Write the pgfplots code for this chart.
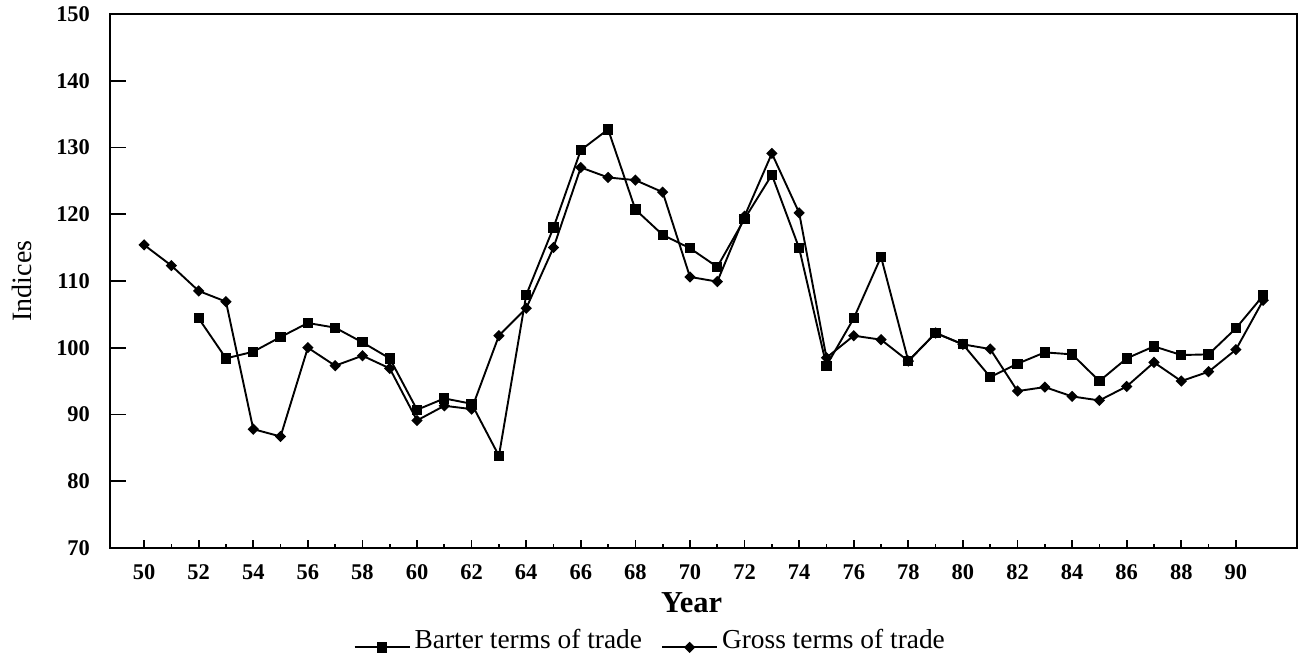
\documentclass[border=0pt]{standalone}
\usepackage{pgfplots}
\pgfplotsset{compat=1.18}
\usepackage{fontspec}
\setmainfont{Liberation Serif}
\begin{document}
\begin{tikzpicture}
\begin{axis}[
  scale only axis,
  width=623.9pt, height=280.7pt,
  at={(0,0)}, anchor=south west,
  xmin=48.75, xmax=92.24,
  ymin=70, ymax=150,
  axis line style={line width=1pt},
  tick align=inside,
  xtick={50,52,...,90},
  minor x tick num=1,
  xtick pos=bottom,
  ytick={70,80,...,150},
  ytick pos=left,
  ytick style={draw=none},
  major tick length=4.2pt,
  minor tick length=2.1pt,
  xtick style={line width=0.9pt, black},
  minor tick style={line width=0.9pt, black},
  /pgf/number format/assume math mode=true,
  ticklabel style={font=\fontsize{11.8}{13}\selectfont\bfseries},
  xticklabel style={yshift=-5pt, text height=8pt, text depth=0pt},
  yticklabel style={xshift=-7pt},
  xlabel={Year},
  ylabel={Indices},
  every axis x label/.style={at={(axis description cs:0.49,-0.103)},anchor=center,font=\fontsize{16}{18}\selectfont\bfseries},
  every axis y label/.style={at={(axis description cs:-0.0741,0.5)},rotate=90,anchor=center,font=\fontsize{14.7}{16}\selectfont},
  legend columns=2,
  legend style={at={(axis description cs:0.456,-0.172)},anchor=center,draw=none,fill=none,
    font=\fontsize{14.4}{16}\selectfont,
    /tikz/every even column/.append style={column sep=8pt}},
  legend image code/.code={\draw[mark repeat=2,mark phase=2,#1,yshift=-4pt] plot coordinates {(0pt,0pt) (14.5pt,0pt) (29pt,0pt)};},
]
\addplot[black, line width=1pt, mark=square*, mark size=2.2pt, mark options={solid}] coordinates {
(52,104.4) (53,98.4) (54,99.4) (55,101.6) (56,103.7) (57,103.0) (58,100.8) (59,98.4)
(60,90.7) (61,92.4) (62,91.6) (63,83.8) (64,107.9) (65,118.0) (66,129.6) (67,132.7)
(68,120.7) (69,116.9) (70,114.9) (71,112.1) (72,119.3) (73,125.9) (74,114.9) (75,97.3)
(76,104.4) (77,113.6) (78,98.0) (79,102.2) (80,100.5) (81,95.6) (82,97.6) (83,99.3)
(84,99.0) (85,95.0) (86,98.4) (87,100.2) (88,98.9) (89,99.0) (90,102.9) (91,107.8)
};
\addlegendentry{Barter terms of trade}
\addplot[black, line width=1pt, mark=square*, mark size=1.6pt, mark options={solid,rotate=45}] coordinates {
(50,115.4) (51,112.3) (52,108.5) (53,106.9) (54,87.8) (55,86.7) (56,100.0) (57,97.3)
(58,98.8) (59,96.9) (60,89.1) (61,91.3) (62,90.8) (63,101.8) (64,105.9) (65,115.0)
(66,127.0) (67,125.5) (68,125.1) (69,123.3) (70,110.6) (71,109.9) (72,119.7) (73,129.1)
(74,120.2) (75,98.5) (76,101.8) (77,101.2) (78,98.0) (79,102.2) (80,100.5) (81,99.8)
(82,93.5) (83,94.1) (84,92.7) (85,92.1) (86,94.2) (87,97.8) (88,95.0) (89,96.4)
(90,99.7) (91,107.1)
};
\addlegendentry{Gross terms of trade}
\pgfplotsinvokeforeach{80,90,...,140}{
  \draw[line width=0.9pt] (axis cs:48.75,#1) -- ++(8.4pt,0pt);
}
\end{axis}
\path[use as bounding box] (-57.8pt,-62.0pt) rectangle (628.1pt,288.0pt);
\end{tikzpicture}
\end{document}
